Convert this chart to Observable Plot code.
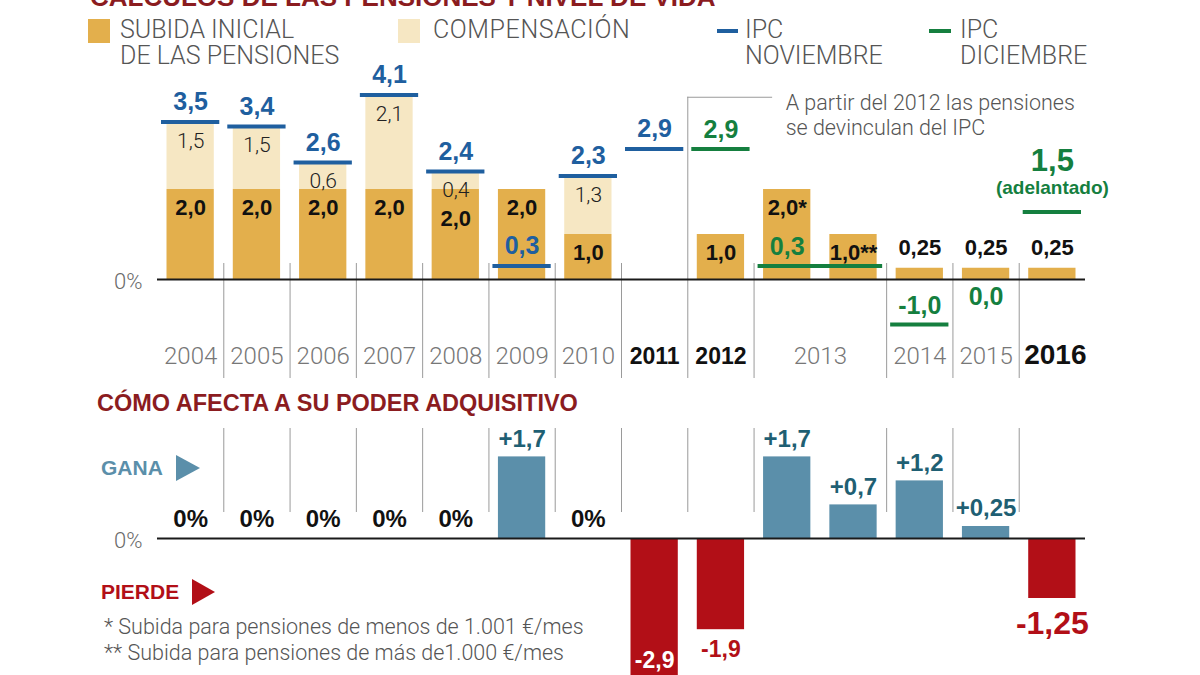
<!DOCTYPE html>
<html><head><meta charset="utf-8">
<script src="https://cdn.jsdelivr.net/npm/d3@7"></script>
<script src="https://cdn.jsdelivr.net/npm/@observablehq/plot@0.6"></script>
<style>
html,body{margin:0;padding:0;background:#fff;}
#root{position:relative;width:1200px;height:675px;overflow:hidden;background:#fff;font-family:"Liberation Sans",Arial,sans-serif;}
.abs{position:absolute;white-space:nowrap;}
.light{font-family:Roboto,"Liberation Sans",sans-serif;font-weight:300;}
svg.plot-layer{position:absolute;left:0;}
</style></head><body><div id="root"></div>
<script>
// ---------- DATA ----------
const slots = ["2004","2005","2006","2007","2008","2009","2010","2011","2012","2013a","2013b","2014","2015","2016"];
const subida = [2.0,2.0,2.0,2.0,2.0,2.0,1.0,0,1.0,2.0,1.0,0.25,0.25,0.25];
const subidaNotes = ["","","","","","","","","","*","**","","",""];
const compensacion = [1.5,1.4,0.6,2.1,0.4,0,1.3,0,0,0,0,0,0,0];
const compensacionLabels = ["1,5","1,5","0,6","2,1","0,4","","1,3","","","","","","",""];
const ipcNovYears = ["2004","2005","2006","2007","2008","2009","2010","2011"];
const ipcNov = [3.5,3.4,2.6,4.1,2.4,0.3,2.3,2.9];
const ipcDicYears = ["2012","2013","2014","2015","2016"];
const ipcDic = [2.9,0.3,-1.0,0.0,1.5];
const ipcDicNotes = ["","","","","(adelantado)"];
const yearLabels = ["2004","2005","2006","2007","2008","2009","2010","2011","2012","2013","2014","2015","2016"];
const boldYears = ["2011","2012","2016"];
const poderAdquisitivo = [0,0,0,0,0,1.7,0,-2.9,-1.9,1.7,0.7,1.2,0.25,-1.25];
const titleText = "CÁLCULOS DE LAS PENSIONES Y NIVEL DE VIDA";
const subtitle2 = "CÓMO AFECTA A SU PODER ADQUISITIVO";
const legendItems = ["SUBIDA INICIAL\nDE LAS PENSIONES","COMPENSACIÓN","IPC\nNOVIEMBRE","IPC\nDICIEMBRE"];
const annotationText = "A partir del 2012 las pensiones\nse devinculan del IPC";
const footnotes = ["* Subida para pensiones de menos de 1.001 €/mes","** Subida para pensiones de más de1.000 €/mes"];

// ---------- STYLE ----------
const GOLD="#E3AF4C", PALE="#F6E7C3", BLUE="#1F5F9F", GREEN="#157F3F",
      POS="#5B8FAA", NEG="#B20F17", POSTXT="#1F5F73", DARKRED="#8B1C1F", GRAYTXT="#6a6a6a", SEP="#9a9a9a";
const LIGHT = "Roboto, 'Liberation Sans', sans-serif";
const BOLD = "'Liberation Sans', Arial, sans-serif";

const fmt = v => (Math.round(Math.abs(v)*100)%10 !== 0 ? v.toFixed(2) : v.toFixed(1)).replace(".", ",");
function span(year){
  const idx = slots.map((s,i)=>s.startsWith(year)?i:-1).filter(i=>i>=0);
  const a = d3.min(idx), b = d3.max(idx);
  return {x1: a-0.5, x2: b+0.5, xc: (a+b)/2, xa: a};
}
const boundaries = yearLabels.slice(1).map(y => span(y).x1);

const topData = slots.map((s,i)=>({slot:s,i,subida:subida[i],comp:compensacion[i],compLabel:compensacionLabels[i],note:subidaNotes[i]}));
const novData = ipcNovYears.map((y,k)=>({year:y,v:ipcNov[k],...span(y)}));
const dicData = ipcDicYears.map((y,k)=>({year:y,v:ipcDic[k],note:ipcDicNotes[k],...span(y)}));
const yearData = yearLabels.map(y=>({year:y,bold:boldYears.includes(y),...span(y)}));
const poderData = slots.map((s,i)=>({slot:s,i,v:poderAdquisitivo[i],big:s==="2016"}));

const xScale = {domain:[-0.5,13.5], range:[157,1085], axis:null};
const annY = 4.05, annX2 = 8.78;

const root = document.getElementById("root");

// ---------- TOP CHART ----------
const topChart = Plot.plot({
  width:1200, height:390, marginLeft:157, marginRight:115, marginTop:0, marginBottom:12,
  x:xScale, y:{domain:[-2.4,6.2], range:[387,0], axis:null},
  style:{background:"transparent", fontFamily:BOLD, overflow:"visible"},
  marks:[
    Plot.ruleX(boundaries.filter(b=>b!==span("2012").x1), {x:d=>d, insetTop:263, stroke:SEP, strokeWidth:1}),
    Plot.ruleX([span("2012").x1], {x:d=>d, y1:()=>-2.2, y2:()=>annY, stroke:SEP, strokeWidth:1}),
    Plot.ruleY([annY], {y:d=>d, x1:()=>span("2012").x1, x2:()=>annX2, stroke:SEP, strokeWidth:1}),
    Plot.text([annotationText], {x:()=>annX2, y:()=>annY, text:d=>d, textAnchor:"start", lineAnchor:"top", dx:13, dy:-5, lineHeight:1.16, fontSize:21.5, fill:"#555", fontFamily:LIGHT, fontWeight:300}),
    Plot.rectY(topData.filter(d=>d.subida>0), {x1:d=>d.i-0.5, x2:d=>d.i+0.5, y1:()=>0, y2:"subida", fill:GOLD, insetLeft:9.5, insetRight:9.5}),
    Plot.rectY(topData.filter(d=>d.comp>0), {x1:d=>d.i-0.5, x2:d=>d.i+0.5, y1:"subida", y2:d=>d.subida+d.comp, fill:PALE, insetLeft:9.5, insetRight:9.5}),
    Plot.ruleY(dicData.filter(d=>d.v!==0), {x1:"x1", x2:"x2", y:"v", stroke:GREEN, strokeWidth:4, insetLeft:4, insetRight:4}),
    Plot.ruleY([0], {stroke:"#1a1a1a", strokeWidth:2}),
    Plot.ruleY(novData, {x1:"x1", x2:"x2", y:"v", stroke:BLUE, strokeWidth:4, insetLeft:4, insetRight:4}),
    // labels
    Plot.text(novData, {x:"xc", y:"v", text:d=>fmt(d.v), dy:-20, fill:BLUE, fontWeight:"bold", fontSize:25}),
    Plot.text(dicData.filter(d=>d.v!==0 && !d.note), {x:"xa", y:"v", text:d=>fmt(d.v), dy:-19, fill:GREEN, fontWeight:"bold", fontSize:25}),
    Plot.text(dicData.filter(d=>d.v===0), {x:"xa", y:"v", text:d=>fmt(d.v), dy:17, fill:GREEN, fontWeight:"bold", fontSize:25}),
    Plot.text(dicData.filter(d=>d.note), {x:"xa", y:"v", text:d=>fmt(d.v), dy:-51, fill:GREEN, fontWeight:"bold", fontSize:31}),
    Plot.text(dicData.filter(d=>d.note), {x:"xa", y:"v", text:"note", dy:-24, fill:GREEN, fontWeight:"bold", fontSize:19}),
    Plot.text(topData.filter(d=>d.subida>=1 && !(d.comp>0 && d.comp<0.5)), {x:"i", y:"subida", text:d=>fmt(d.subida)+d.note, dy:18, fill:"#111", fontWeight:"bold", fontSize:22}),
    Plot.text(topData.filter(d=>d.subida>=1 && d.comp>0 && d.comp<0.5), {x:"i", y:"subida", text:d=>fmt(d.subida)+d.note, dy:29, fill:"#111", fontWeight:"bold", fontSize:22}),
    Plot.text(topData.filter(d=>d.subida>0 && d.subida<1), {x:"i", y:"subida", text:d=>fmt(d.subida)+d.note, dy:-20, fill:"#111", fontWeight:"bold", fontSize:22}),
    Plot.text(topData.filter(d=>d.comp>0), {x:"i", y:d=>d.subida+d.comp, text:"compLabel", dy:19, fill:"#222", fontSize:21, fontFamily:LIGHT, fontWeight:300}),
    Plot.text(["0%"], {frameAnchor:"left", y:()=>0, text:d=>d, textAnchor:"end", dx:-15, dy:2, fill:GRAYTXT, fontSize:22, fontFamily:LIGHT, fontWeight:300}),
    Plot.text(yearData.filter(d=>!d.bold), {x:"xc", frameAnchor:"bottom", dy:-15, text:"year", fill:"#777", fontSize:24, fontFamily:LIGHT, fontWeight:300}),
    Plot.text(yearData.filter(d=>d.bold && d.year!=="2016"), {x:"xc", frameAnchor:"bottom", dy:-15, text:"year", fill:"#111", fontSize:23, fontWeight:"bold"}),
    Plot.text(yearData.filter(d=>d.year==="2016"), {x:"xc", frameAnchor:"bottom", dy:-15, dx:3, text:"year", fill:"#111", fontSize:28, fontWeight:"bold"})
  ]
});
topChart.classList.add("plot-layer"); topChart.style.top="0px";
root.appendChild(topChart);

// ---------- BOTTOM CHART ----------
const bottomChart = Plot.plot({
  width:1200, height:295, marginLeft:157, marginRight:115, marginTop:0, marginBottom:0,
  x:xScale, y:{domain:[-3,3], range:[302,14], axis:null},
  style:{background:"transparent", fontFamily:BOLD},
  marks:[
    Plot.ruleX(boundaries, {x:d=>d, insetTop:48, insetBottom:163, stroke:SEP, strokeWidth:1}),
    Plot.rectY(poderData.filter(d=>d.v>0), {x1:d=>d.i-0.5, x2:d=>d.i+0.5, y1:()=>0, y2:"v", fill:POS, insetLeft:9.5, insetRight:9.5}),
    Plot.rectY(poderData.filter(d=>d.v<0), {x1:d=>d.i-0.5, x2:d=>d.i+0.5, y1:()=>0, y2:"v", fill:NEG, insetLeft:9.5, insetRight:9.5}),
    Plot.ruleY([0], {stroke:"#1a1a1a", strokeWidth:2}),
    Plot.text(poderData.filter(d=>d.v===0), {x:"i", y:"v", text:()=>"0%", dy:-19, fill:"#111", fontWeight:"bold", fontSize:24}),
    Plot.text(poderData.filter(d=>d.v>0), {x:"i", y:"v", text:d=>"+"+fmt(d.v), dy:-18, fill:POSTXT, fontWeight:"bold", fontSize:24}),
    Plot.text(poderData.filter(d=>d.v<=-2.5), {x:"i", y:"v", text:d=>fmt(d.v), dy:-17, fill:"#fff", fontWeight:"bold", fontSize:23}),
    Plot.text(poderData.filter(d=>d.v<0 && d.v>-2.5 && !d.big), {x:"i", y:"v", text:d=>fmt(d.v), dy:20, fill:NEG, fontWeight:"bold", fontSize:23}),
    Plot.text(poderData.filter(d=>d.v<0 && d.big), {x:"i", y:"v", text:d=>fmt(d.v), dy:25, fill:NEG, fontWeight:"bold", fontSize:32}),
    Plot.text(["0%"], {frameAnchor:"left", y:()=>0, text:d=>d, textAnchor:"end", dx:-15, dy:2, fill:GRAYTXT, fontSize:22, fontFamily:LIGHT, fontWeight:300})
  ]
});
bottomChart.classList.add("plot-layer"); bottomChart.style.top="380px";
root.appendChild(bottomChart);

// ---------- HTML TEXT / LEGEND ----------
function addDiv(html, css, cls="abs"){
  const d=document.createElement("div"); d.className=cls; d.innerHTML=html; d.style.cssText=css; root.appendChild(d); return d;
}
function addLines(text, left, topPx, extra=""){
  text.split("\n").forEach((line,k)=>{
    addDiv(line, `left:${left}px;top:${topPx+k*26}px;height:26px;font:300 25px/26px ${LIGHT};color:#555;overflow:visible;${extra}`, "abs light");
  });
}
addDiv(titleText, `left:90px;top:-16px;font:bold 26px/26px ${BOLD};color:${DARKRED};`);
const lgTop = 17;
addDiv("", `left:88px;top:19px;width:22px;height:24px;background:${GOLD};`);
addLines(legendItems[0], 120, lgTop);
addDiv("", `left:398px;top:19px;width:22px;height:24px;background:${PALE};`);
addLines(legendItems[1], 433, lgTop, "letter-spacing:0.6px;");
addDiv("", `left:717px;top:29px;width:21px;height:4px;background:${BLUE};`);
addLines(legendItems[2], 745, lgTop);
addDiv("", `left:929px;top:29px;width:22px;height:4px;background:${GREEN};`);
addLines(legendItems[3], 960, lgTop);
addDiv(subtitle2, `left:97px;top:391px;font:bold 23.5px/24px ${BOLD};color:${DARKRED};`);
addDiv("GANA", `left:101px;top:457px;font:bold 21px/22px ${BOLD};color:${POS};`);
addDiv(`<svg width="24" height="26"><polygon points="0,0 24,13 0,26" fill="${POS}"/></svg>`, `left:176px;top:455px;line-height:0;`);
addDiv("PIERDE", `left:101px;top:581px;font:bold 21px/22px ${BOLD};color:${NEG};`);
addDiv(`<svg width="23" height="26"><polygon points="0,0 23,13 0,26" fill="${NEG}"/></svg>`, `left:192px;top:579px;line-height:0;`);
addDiv(footnotes[0], `left:104px;top:614px;font:300 21.5px/25px ${LIGHT};color:#555;`, "abs light");
addDiv(footnotes[1], `left:104px;top:640px;font:300 21.5px/25px ${LIGHT};color:#555;`, "abs light");
</script>
</body></html>
